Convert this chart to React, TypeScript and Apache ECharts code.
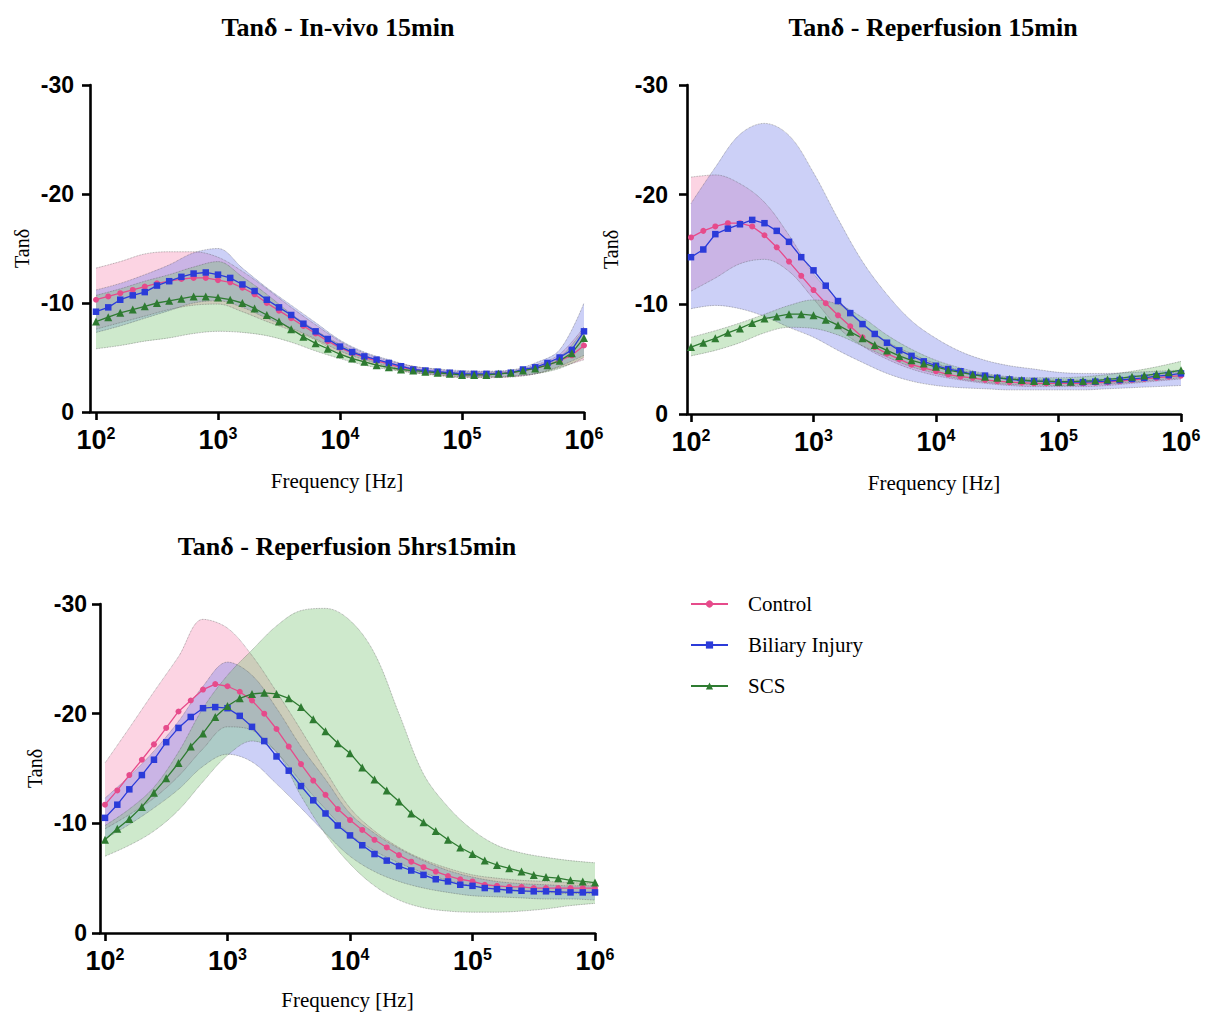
import React, { useEffect, useRef } from "react";
import * as echarts from "echarts";

// Measurement frequencies (10 points per decade, 10^2 .. 10^6 Hz)
const FREQ_HZ = [
  100, 126, 158, 200, 251, 316, 398, 501, 631, 794,
  1000, 1259, 1585, 1995, 2512, 3162, 3981, 5012, 6310, 7943,
  10000, 12589, 15849, 19953, 25119, 31623, 39811, 50119, 63096, 79433,
  100000, 125893, 158489, 199526, 251189, 316228, 398107, 501187, 630957, 794328,
  1000000,
];
// Confidence bands are read every second frequency
const BAND_FREQ_HZ = FREQ_HZ.filter((_, i) => i % 2 === 0);
const X_TICKS = [100, 1000, 10000, 100000, 1000000];

const GROUPS = ["Control", "Biliary Injury", "SCS"];
const TITLES = ["Tanδ - In-vivo 15min", "Tanδ - Reperfusion 15min", "Tanδ - Reperfusion 5hrs15min"];

// ---------- Panel 1: In-vivo 15min ----------
const IV_CONTROL = [-10.3, -10.6, -10.9, -11.2, -11.5, -11.8, -12.0, -12.2, -12.3, -12.3, -12.1, -11.9, -11.4, -10.8, -10.0, -9.3, -8.6, -7.9, -7.2, -6.5, -5.9, -5.4, -5.0, -4.7, -4.4, -4.1, -3.9, -3.7, -3.6, -3.5, -3.4, -3.4, -3.4, -3.5, -3.6, -3.8, -4.0, -4.3, -4.7, -5.2, -6.1];
const IV_BILIARY = [-9.2, -9.6, -10.3, -10.7, -11.0, -11.6, -12.0, -12.4, -12.7, -12.8, -12.6, -12.3, -11.7, -11.1, -10.3, -9.6, -8.9, -8.1, -7.4, -6.7, -6.0, -5.5, -5.1, -4.8, -4.5, -4.2, -3.9, -3.8, -3.7, -3.6, -3.5, -3.5, -3.5, -3.5, -3.6, -3.9, -4.1, -4.5, -5.0, -5.7, -7.4];
const IV_SCS = [-8.3, -8.7, -9.1, -9.4, -9.7, -10.0, -10.2, -10.4, -10.6, -10.6, -10.5, -10.3, -10.0, -9.5, -8.9, -8.3, -7.6, -6.9, -6.3, -5.8, -5.3, -4.9, -4.6, -4.3, -4.1, -3.9, -3.8, -3.7, -3.6, -3.5, -3.4, -3.4, -3.4, -3.5, -3.6, -3.8, -4.0, -4.3, -4.7, -5.4, -6.8];
const IV_CONTROL_HI = [-13.2, -13.8, -14.5, -14.7, -14.7, -14.2, -12.9, -11.3, -9.6, -8.0, -6.5, -5.4, -4.7, -4.2, -3.9, -3.7, -3.7, -3.8, -4.3, -5.3, -7.8];
const IV_CONTROL_LO = [-7.6, -8.2, -8.8, -9.4, -9.8, -9.9, -9.2, -8.3, -7.5, -6.6, -5.3, -4.6, -4.0, -3.6, -3.35, -3.15, -3.15, -3.2, -3.5, -4.1, -4.8];
const IV_BILIARY_HI = [-11.2, -11.8, -12.6, -13.5, -14.6, -15.0, -13.2, -11.4, -9.8, -8.2, -6.6, -5.5, -4.8, -4.2, -3.95, -3.8, -3.75, -3.85, -4.5, -5.7, -10.0];
const IV_BILIARY_LO = [-7.3, -7.9, -8.6, -9.3, -10.0, -10.2, -9.6, -8.6, -7.7, -6.7, -5.6, -4.8, -4.2, -3.7, -3.45, -3.25, -3.2, -3.25, -3.5, -4.2, -5.2];
const IV_SCS_HI = [-10.7, -11.3, -12.0, -12.6, -13.3, -13.8, -12.4, -10.8, -9.0, -7.5, -6.2, -5.2, -4.5, -4.0, -3.7, -3.6, -3.6, -3.7, -4.1, -5.0, -7.6];
const IV_SCS_LO = [-5.8, -6.1, -6.5, -6.8, -7.2, -7.4, -7.3, -7.0, -6.4, -5.6, -4.9, -4.3, -3.9, -3.6, -3.4, -3.2, -3.2, -3.3, -3.5, -4.0, -5.0];

// ---------- Panel 2: Reperfusion 15min ----------
const RP_CONTROL = [-16.1, -16.7, -17.1, -17.4, -17.4, -17.1, -16.3, -15.2, -13.9, -12.6, -11.3, -10.1, -9.0, -8.0, -7.0, -6.1, -5.5, -5.0, -4.5, -4.2, -3.9, -3.6, -3.4, -3.3, -3.1, -3.0, -2.9, -2.85, -2.8, -2.8, -2.8, -2.8, -2.8, -2.85, -2.9, -3.0, -3.1, -3.2, -3.3, -3.4, -3.5];
const RP_BILIARY = [-14.3, -15.0, -16.4, -16.9, -17.3, -17.7, -17.4, -16.7, -15.7, -14.3, -13.1, -11.7, -10.3, -9.2, -8.2, -7.3, -6.5, -5.8, -5.3, -4.8, -4.4, -4.1, -3.9, -3.6, -3.5, -3.3, -3.15, -3.05, -3.0, -2.95, -2.9, -2.9, -2.9, -2.95, -3.0, -3.1, -3.2, -3.3, -3.45, -3.55, -3.7];
const RP_SCS = [-6.1, -6.5, -6.9, -7.4, -7.8, -8.3, -8.7, -8.9, -9.1, -9.1, -9.0, -8.6, -8.1, -7.5, -6.9, -6.3, -5.8, -5.3, -4.9, -4.6, -4.3, -4.0, -3.8, -3.6, -3.4, -3.3, -3.2, -3.1, -3.0, -3.0, -2.95, -2.95, -3.0, -3.05, -3.15, -3.25, -3.4, -3.5, -3.65, -3.8, -4.0];
const RP_CONTROL_HI = [-21.6, -21.8, -21.0, -19.3, -16.3, -12.8, -10.4, -8.3, -6.6, -5.5, -4.6, -4.0, -3.6, -3.3, -3.15, -3.1, -3.1, -3.2, -3.4, -3.6, -3.9];
const RP_CONTROL_LO = [-11.2, -12.4, -13.7, -14.1, -13.0, -10.5, -7.9, -6.2, -5.0, -4.1, -3.5, -3.1, -2.8, -2.6, -2.5, -2.5, -2.5, -2.6, -2.8, -3.0, -3.2];
const RP_BILIARY_HI = [-19.2, -22.5, -25.5, -26.5, -25.4, -22.0, -17.8, -13.9, -10.9, -8.5, -6.9, -5.7, -4.9, -4.4, -4.1, -3.8, -3.7, -3.7, -3.8, -3.9, -4.0];
const RP_BILIARY_LO = [-9.6, -9.9, -9.6, -8.9, -7.9, -7.0, -5.8, -4.7, -3.7, -3.0, -2.6, -2.4, -2.3, -2.2, -2.2, -2.2, -2.2, -2.3, -2.4, -2.5, -2.6];
const RP_SCS_HI = [-7.0, -7.6, -8.3, -9.1, -9.9, -10.4, -10.0, -8.8, -7.2, -5.9, -4.9, -4.2, -3.7, -3.4, -3.3, -3.3, -3.4, -3.6, -3.9, -4.3, -4.8];
const RP_SCS_LO = [-5.3, -5.8, -6.5, -7.4, -7.9, -7.8, -7.2, -6.2, -5.2, -4.3, -3.7, -3.2, -2.9, -2.7, -2.65, -2.6, -2.65, -2.75, -2.9, -3.1, -3.3];

// ---------- Panel 3: Reperfusion 5hrs15min ----------
const R5_CONTROL = [-11.7, -13.0, -14.4, -15.8, -17.2, -18.7, -20.2, -21.2, -22.2, -22.7, -22.5, -22.0, -21.2, -20.0, -18.6, -17.0, -15.4, -13.9, -12.6, -11.3, -10.3, -9.4, -8.5, -7.8, -7.1, -6.5, -6.0, -5.6, -5.2, -4.9, -4.7, -4.4, -4.3, -4.2, -4.2, -4.1, -4.1, -4.1, -4.1, -4.1, -4.1];
const R5_BILIARY = [-10.5, -11.7, -13.1, -14.4, -15.8, -17.4, -18.7, -19.7, -20.5, -20.6, -20.5, -19.8, -18.8, -17.5, -16.1, -14.8, -13.4, -12.1, -10.9, -9.8, -8.9, -8.0, -7.2, -6.6, -6.1, -5.7, -5.3, -4.9, -4.7, -4.4, -4.3, -4.1, -4.0, -3.9, -3.85, -3.8, -3.8, -3.75, -3.7, -3.7, -3.7];
const R5_SCS = [-8.5, -9.5, -10.4, -11.5, -12.8, -14.1, -15.5, -17.0, -18.2, -19.7, -20.7, -21.4, -21.8, -21.9, -21.8, -21.4, -20.6, -19.5, -18.4, -17.3, -16.4, -15.1, -14.0, -13.0, -12.0, -10.9, -10.1, -9.3, -8.5, -7.8, -7.2, -6.6, -6.2, -5.9, -5.6, -5.3, -5.1, -5.0, -4.8, -4.7, -4.6];
const R5_CONTROL_HI = [-15.5, -18.7, -22.0, -25.2, -28.6, -27.8, -25.3, -22.0, -18.5, -14.8, -11.4, -9.3, -7.8, -6.7, -5.9, -5.3, -5.0, -4.8, -4.7, -4.6, -4.5];
const R5_CONTROL_LO = [-9.5, -10.8, -12.3, -14.3, -16.8, -18.8, -18.5, -16.5, -13.8, -11.3, -9.0, -7.5, -6.4, -5.5, -4.8, -4.3, -4.0, -3.8, -3.7, -3.6, -3.6];
const R5_BILIARY_HI = [-12.3, -14.3, -16.6, -19.3, -22.5, -24.7, -23.5, -20.5, -17.0, -14.0, -10.9, -9.1, -7.7, -6.6, -5.7, -5.1, -4.7, -4.5, -4.4, -4.3, -4.3];
const R5_BILIARY_LO = [-8.6, -9.9, -11.4, -13.1, -15.2, -16.3, -15.6, -13.6, -11.4, -9.1, -7.0, -5.6, -4.7, -4.1, -3.7, -3.4, -3.3, -3.2, -3.1, -3.1, -3.0];
const R5_SCS_HI = [-9.8, -11.3, -13.3, -16.5, -20.5, -23.5, -25.8, -28.0, -29.4, -29.6, -28.5, -25.5, -20.0, -14.5, -11.5, -9.4, -8.0, -7.3, -6.9, -6.6, -6.4];
const R5_SCS_LO = [-7.0, -8.0, -9.3, -11.2, -13.8, -16.2, -17.5, -16.5, -12.5, -9.0, -6.3, -4.3, -3.0, -2.3, -2.0, -1.9, -1.9, -2.0, -2.2, -2.5, -2.7];

const PANELS = [
  { mean: [IV_CONTROL, IV_BILIARY, IV_SCS], hi: [IV_CONTROL_HI, IV_BILIARY_HI, IV_SCS_HI], lo: [IV_CONTROL_LO, IV_BILIARY_LO, IV_SCS_LO] },
  { mean: [RP_CONTROL, RP_BILIARY, RP_SCS], hi: [RP_CONTROL_HI, RP_BILIARY_HI, RP_SCS_HI], lo: [RP_CONTROL_LO, RP_BILIARY_LO, RP_SCS_LO] },
  { mean: [R5_CONTROL, R5_BILIARY, R5_SCS], hi: [R5_CONTROL_HI, R5_BILIARY_HI, R5_SCS_HI], lo: [R5_CONTROL_LO, R5_BILIARY_LO, R5_SCS_LO] },
];

// ---------- styling / layout ----------
const LINE_COLORS = ["#E64B8B", "#2B3BD9", "#2E7B31"];
const BAND_FILLS = ["rgba(245,130,172,0.34)", "rgba(110,120,232,0.35)", "rgba(118,195,115,0.36)"];
const SYMBOLS = ["circle", "rect", "triangle"];
const SYMBOL_SIZES = [6, 6.5, 8];
const SERIF = "'Liberation Serif', 'Times New Roman', serif";
const SANS = "'Liberation Sans', Arial, sans-serif";

const LAYOUT = [
  { titleX: 338, titleTop: 14, left: 90, top: 85, width: 494, height: 327, plotLeft: 96, xMin: 89.8, yLabelMargin: 16, yNameGap: 58, xNameGap: 58 },
  { titleX: 933, titleTop: 14, left: 687, top: 85, width: 494, height: 329, plotLeft: 691, xMin: 93.3, yLabelMargin: 19, yNameGap: 66, xNameGap: 58 },
  { titleX: 347, titleTop: 533, left: 100, top: 604, width: 495, height: 329, plotLeft: 105, xMin: 90.6, yLabelMargin: 13, yNameGap: 55, xNameGap: 56 },
];

function buildOption() {
  const grid: any[] = [];
  const xAxis: any[] = [];
  const yAxis: any[] = [];
  const title: any[] = [];
  const series: any[] = [];
  const edge = { color: "rgba(70,70,70,0.55)", width: 0.8, type: "dotted" };

  LAYOUT.forEach((L, p) => {
    const right = L.left + L.width;
    title.push({
      text: TITLES[p], left: L.titleX, top: L.titleTop, textAlign: "center", padding: 0,
      textStyle: { fontFamily: SERIF, fontWeight: "bold", fontSize: 26, color: "#000" },
    });
    // frame grid (axis lines, y labels, names)
    grid.push({ left: L.left, top: L.top, width: L.width, height: L.height, containLabel: false });
    // data grid (starts exactly at 10^2)
    grid.push({ left: L.plotLeft, top: L.top, width: right - L.plotLeft, height: L.height, containLabel: false });

    xAxis.push({
      type: "log", logBase: 10, gridIndex: 2 * p, min: L.xMin, max: 1e6,
      axisLine: { show: true, onZero: false, lineStyle: { color: "#000", width: 2.6 } },
      axisTick: { show: false }, axisLabel: { show: false }, splitLine: { show: false },
      name: "Frequency [Hz]", nameLocation: "middle", nameGap: L.xNameGap,
      nameTextStyle: { fontFamily: SERIF, fontSize: 21, color: "#000" },
    });
    xAxis.push({
      type: "log", logBase: 10, gridIndex: 2 * p + 1, min: X_TICKS[0], max: X_TICKS[X_TICKS.length - 1],
      axisLine: { show: false, onZero: false },
      axisTick: { show: true, length: 8, lineStyle: { color: "#000", width: 2.6 } },
      splitLine: { show: false },
      axisLabel: {
        margin: 13,
        formatter: (v: number) => `{b|10}{s|${Math.round(Math.log10(v))}}`,
        rich: {
          b: { fontFamily: SANS, fontWeight: "bold", fontSize: 27, lineHeight: 30, color: "#000" },
          s: { fontFamily: SANS, fontWeight: "bold", fontSize: 16, lineHeight: 16, verticalAlign: "top", color: "#000" },
        },
      },
    });
    yAxis.push({
      type: "value", gridIndex: 2 * p, min: -30, max: 0, interval: 10, inverse: true,
      axisLine: { show: true, onZero: false, lineStyle: { color: "#000", width: 2.6 } },
      axisTick: { show: true, length: 8, lineStyle: { color: "#000", width: 2.6 } },
      axisLabel: { fontFamily: SANS, fontWeight: "bold", fontSize: 23, color: "#000", margin: L.yLabelMargin },
      splitLine: { show: false },
      name: "Tanδ", nameLocation: "middle", nameGap: L.yNameGap,
      nameTextStyle: { fontFamily: SERIF, fontSize: 20, color: "#000" },
    });
    yAxis.push({ type: "value", gridIndex: 2 * p + 1, min: -30, max: 0, interval: 10, inverse: true, show: false });

    const ax = 2 * p + 1;
    const panel = PANELS[p];
    GROUPS.forEach((g, k) => {
      const stack = `band-${p}-${k}`;
      // value first, frequency second, so that the stack acts on the y dimension
      series.push({
        type: "line", name: `${g} band low`, xAxisIndex: ax, yAxisIndex: ax, stack,
        encode: { x: 1, y: 0 },
        data: BAND_FREQ_HZ.map((f, i) => [panel.lo[k][i], f]),
        symbol: "none", smooth: 0.35, lineStyle: edge, silent: true, z: 1,
      });
      series.push({
        type: "line", name: `${g} band`, xAxisIndex: ax, yAxisIndex: ax, stack,
        encode: { x: 1, y: 0 },
        data: BAND_FREQ_HZ.map((f, i) => [panel.hi[k][i] - panel.lo[k][i], f]),
        symbol: "none", smooth: 0.35, lineStyle: edge, silent: true, z: 1,
        areaStyle: { color: BAND_FILLS[k], opacity: 1 },
      });
    });
    GROUPS.forEach((g, k) => {
      series.push({
        type: "line", name: g, xAxisIndex: ax, yAxisIndex: ax,
        data: FREQ_HZ.map((f, i) => [f, panel.mean[k][i]]),
        symbol: SYMBOLS[k], symbolSize: SYMBOL_SIZES[k], showAllSymbol: true,
        itemStyle: { color: LINE_COLORS[k] },
        lineStyle: { color: LINE_COLORS[k], width: 1.3 },
        z: 3,
      });
    });
  });

  return {
    animation: false,
    backgroundColor: "#fff",
    title, grid, xAxis, yAxis, series,
    legend: {
      data: GROUPS, orient: "vertical", left: 685, top: 587,
      itemWidth: 37, itemHeight: 9, itemGap: 17,
      textStyle: { fontFamily: SERIF, fontSize: 21, color: "#000", lineHeight: 24, padding: [0, 0, 0, 15] },
    },
  };
}

export default function App() {
  const ref = useRef<HTMLDivElement>(null);
  useEffect(() => {
    if (!ref.current) return;
    const chart = echarts.init(ref.current, undefined, { renderer: "svg" });
    chart.setOption(buildOption() as any);
    return () => chart.dispose();
  }, []);
  return <div ref={ref} style={{ position: "absolute", left: 0, top: 0, width: 1211, height: 1014, background: "#fff" }} />;
}
